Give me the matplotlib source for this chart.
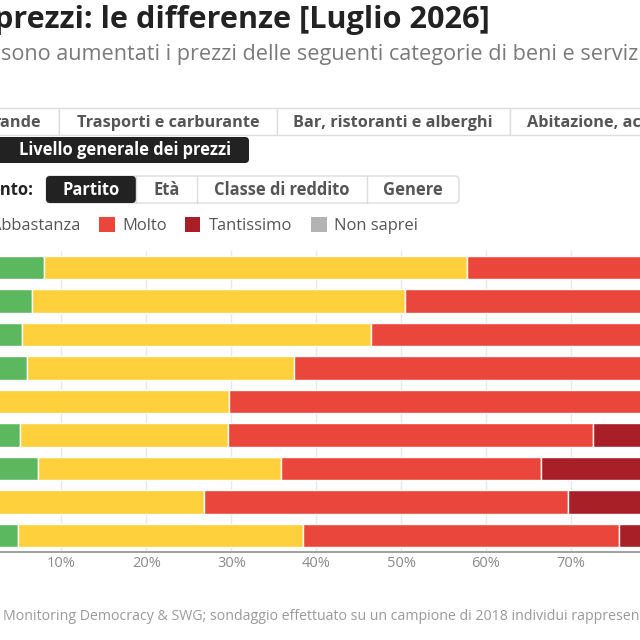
import matplotlib
matplotlib.use("Agg")
import matplotlib.pyplot as plt
from matplotlib.patches import FancyBboxPatch, Rectangle
import numpy as np

plt.rcParams['font.family'] = ['Open Sans', 'DejaVu Sans']

# ---------------- data ----------------
categories = ["Poco", "Abbastanza", "Molto", "Tantissimo", "Non saprei"]
colors = ["#5cb85f", "#fed03b", "#ea463b", "#a81f27", "#b3b3b3"]
poco       = [7.9, 6.5, 5.4, 5.9, 2.0, 5.1, 7.2, 1.5, 4.9]
abbastanza = [49.9, 44.0, 41.0, 31.5, 27.7, 24.5, 28.6, 25.3, 33.5]
molto      = [32.0, 38.0, 40.0, 47.0, 55.0, 43.0, 30.7, 42.9, 37.3]
tantissimo = [8.0, 9.0, 11.0, 13.0, 13.0, 25.0, 31.0, 28.0, 22.0]
non_saprei = [2.2, 2.5, 2.6, 2.6, 2.3, 2.4, 2.5, 2.3, 2.3]
series = [poco, abbastanza, molto, tantissimo, non_saprei]
tick_values = [0, 10, 20, 30, 40, 50, 60, 70, 80, 90, 100]
tick_labels = [f"{v}%" for v in tick_values]

title = "prezzi: le differenze [Luglio 2026]"
subtitle = "sono aumentati i prezzi delle seguenti categorie di beni e servizi"
tabs = ["rande", "Trasporti e carburante", "Bar, ristoranti e alberghi", "Abitazione, ac"]
active_tab = "Livello generale dei prezzi"
group_label = "ento:"
segments = ["Partito", "Età", "Classe di reddito", "Genere"]
footer = "Monitoring Democracy & SWG; sondaggio effettuato su un campione di 2018 individui rappresentativi"

W = H = 640
fig = plt.figure(figsize=(6.4, 6.4), dpi=100)
fig.patch.set_facecolor("white")

# ---------------- chart ----------------
top_px, bot_px = 251, 552
ax = fig.add_axes([0, 1 - bot_px / H, 1, (bot_px - top_px) / H])
n = len(poco)
y = np.arange(n)
left = np.zeros(n)
for vals, col in zip(series, colors):
    ax.barh(y, vals, left=left, height=0.70, color=col, edgecolor="white",
            linewidth=1.0, zorder=3)
    left = left + np.array(vals)
ax.set_xticks(tick_values)
ax.set_xticklabels(tick_labels, color="#8a8a8a", fontsize=10.5)
ax.set_ylim(n - 0.5, -0.5)
ax.set_xlim(2.76, 78.14)
ax.tick_params(axis="x", length=0, pad=3)
ax.set_yticks([])
ax.grid(axis="x", color="#e8e8e8", linewidth=1, zorder=0)
for s in ["top", "right", "left"]:
    ax.spines[s].set_visible(False)
ax.spines["bottom"].set_color("#a0a0a0")
ax.spines["bottom"].set_linewidth(1.4)
ax.set_facecolor("none")

# ---------------- UI overlay (pixel coords) ----------------
ui = fig.add_axes([0, 0, 1, 1], zorder=5)
ui.set_xlim(0, W)
ui.set_ylim(H, 0)
ui.axis("off")
ui.patch.set_alpha(0)

ui.text(-6, 28, title, fontsize=22.1, fontweight="bold", color="#222222", va="baseline", ha="left")
ui.text(1, 60, subtitle, fontsize=15.6, color="#7a7a7a", va="baseline", ha="left")

# tabs row
tab_edges = [-20, 59, 277, 510, 700]
for i, lab in enumerate(tabs):
    x0, x1 = tab_edges[i], tab_edges[i + 1]
    ui.add_patch(Rectangle((x0, 108), x1 - x0, 27, facecolor="white", edgecolor="#dddddd", linewidth=1))
for lab, xc, ha in [(tabs[0], 41, "right"), (tabs[1], 168, "center"), (tabs[2], 393, "center"), (tabs[3], 527, "left")]:
    ui.text(xc, 127.3, lab, fontsize=11.7, fontweight="bold", color="#555555", va="baseline", ha=ha)

# active dark button
ui.add_patch(FancyBboxPatch((-20, 137), 269, 26, boxstyle="round,pad=0,rounding_size=4",
                            facecolor="#222222", edgecolor="none"))
ui.text(125, 155, active_tab, fontsize=11.9, fontweight="bold", color="white", va="baseline", ha="center")

# segment control
ui.text(33, 195, group_label, fontsize=11.9, fontweight="bold", color="#222222", va="baseline", ha="right")
seg_edges = [46, 136, 197, 367, 459]
ui.add_patch(FancyBboxPatch((46, 176), 413, 27, boxstyle="round,pad=0,rounding_size=4",
                            facecolor="white", edgecolor="#dddddd", linewidth=1))
ui.add_patch(FancyBboxPatch((46, 176), 90, 27, boxstyle="round,pad=0,rounding_size=4",
                            facecolor="#222222", edgecolor="none"))
for i, lab in enumerate(segments):
    x0, x1 = seg_edges[i], seg_edges[i + 1]
    if i > 0:
        ui.plot([x0, x0], [176, 203], color="#dddddd", linewidth=1)
    ui.text((x0 + x1) / 2, 195, lab, fontsize=11.9, fontweight="bold",
            color="white" if i == 0 else "#555555", va="baseline", ha="center")

# legend
leg_items = [(categories[1], colors[1], -40, 80, "right"),
             (categories[2], colors[2], 99, 122, "left"),
             (categories[3], colors[3], 184.5, 209, "left"),
             (categories[4], colors[4], 311, 334, "left")]
for lab, col, sx, tx, ha in leg_items:
    ui.add_patch(Rectangle((sx, 216.5), 15.5, 15.5, facecolor=col, edgecolor="none"))
    ui.text(tx, 230, lab, fontsize=11.9, color="#555555", va="baseline", ha=ha)

# footer
ui.text(3, 620, footer, fontsize=10.2, color="#9a9a9a", va="baseline", ha="left")

fig.savefig("out.png", dpi=100, facecolor="white")
